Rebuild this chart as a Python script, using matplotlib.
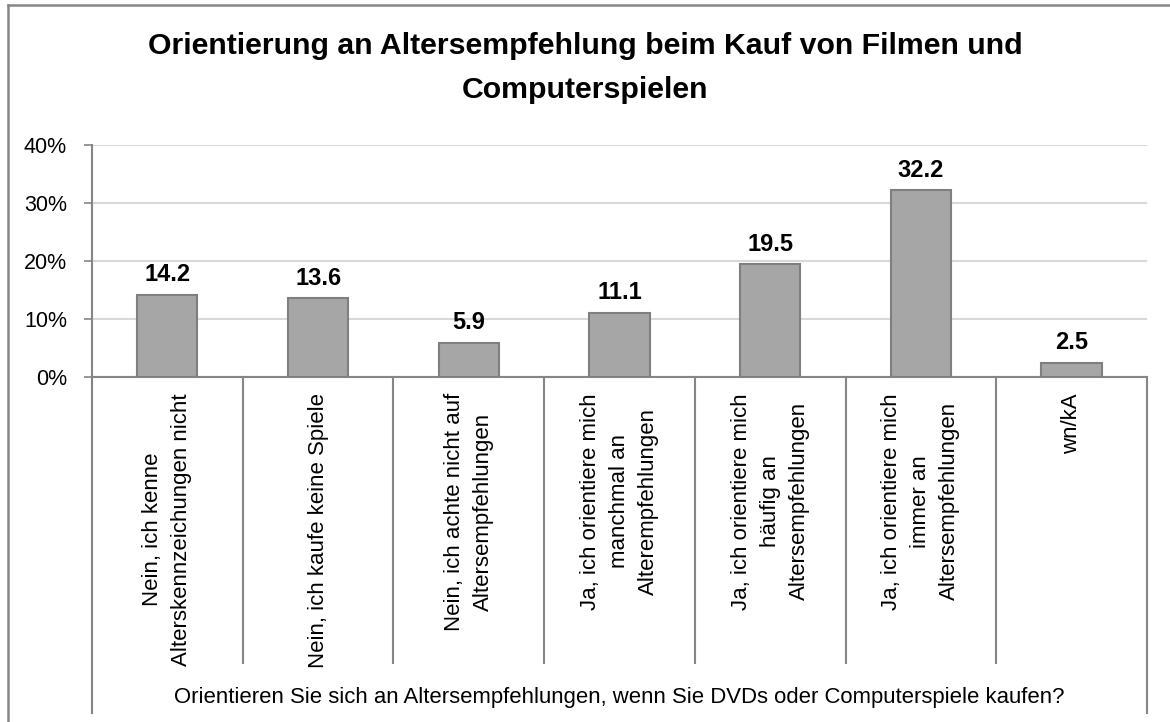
import matplotlib
matplotlib.use('Agg')
import matplotlib.pyplot as plt
from matplotlib.lines import Line2D
import matplotlib.transforms as mtransforms

# Daten
categories = [
    'Nein, ich kenne\nAlterskennzeichungen nicht',
    'Nein, ich kaufe keine Spiele',
    'Nein, ich achte nicht auf\nAltersempfehlungen',
    'Ja, ich orientiere mich\nmanchmal an\nAlterempfehlungen',
    'Ja, ich orientiere mich\nhäufig an\nAltersempfehlungen',
    'Ja, ich orientiere mich\nimmer an\nAltersempfehlungen',
    'wn/kA',
]
values = [14.2, 13.6, 5.9, 11.1, 19.5, 32.2, 2.5]
yticks = [0, 10, 20, 30, 40]
title = 'Orientierung an Altersempfehlung beim Kauf von Filmen und\nComputerspielen'
xtitle = 'Orientieren Sie sich an Altersempfehlungen, wenn Sie DVDs oder Computerspiele kaufen?'

font = ['Liberation Sans', 'DejaVu Sans']
axis_grey = '#868686'

fig = plt.figure(figsize=(11.7, 7.22), dpi=100)
ax = fig.add_axes([92 / 1170, 345 / 722, 1055 / 1170, 232 / 722])

x = list(range(len(values)))
ax.bar(x, values, width=0.4, color='#A6A6A6', edgecolor='#7F7F7F', linewidth=1.5, zorder=3)

for xi, v in zip(x, values):
    ax.annotate(f'{v:.1f}', (xi, v), xytext=(0, 6), textcoords='offset points',
                ha='center', va='bottom', fontsize=17, fontweight='bold', family=font)

ax.set_xlim(-0.5, len(values) - 0.5)
ax.set_ylim(0, 40)
ax.set_yticks(yticks)
ax.set_yticklabels([f'{t}%' for t in yticks], family=font, fontsize=15.5)
ax.tick_params(axis='y', length=6, width=1.2, color=axis_grey, pad=12)
ax.set_xticks([])
ax.grid(True, axis='y', color='#D9D9D9', linewidth=1.5, zorder=0)
for s in ['top', 'right']:
    ax.spines[s].set_visible(False)
ax.spines['left'].set_color(axis_grey)
ax.spines['bottom'].set_color(axis_grey)
ax.spines['left'].set_linewidth(1.5)
ax.spines['bottom'].set_linewidth(1.5)

# Kategorie-Trennlinien und Beschriftungen
trans = mtransforms.blended_transform_factory(ax.transData, ax.transAxes)
for i in range(1, len(values)):
    ax.add_line(Line2D([i - 0.5, i - 0.5], [0, -286 / 232], transform=trans,
                       color=axis_grey, lw=1.5, clip_on=False))
for b in [-0.5, len(values) - 0.5]:
    ax.add_line(Line2D([b, b], [0, -336 / 232], transform=trans,
                       color=axis_grey, lw=1.5, clip_on=False))
for xi, lab in zip(x, categories):
    ax.text(xi, -16 / 232, lab, transform=trans, rotation=90, ha='center', va='top',
            multialignment='center', fontsize=16, family=font, linespacing=1.5)

fig.text(619.5 / 1170, 24 / 722, xtitle, ha='center', va='center', fontsize=15.9, family=font)
fig.text(585 / 1170, 654 / 722, title, ha='center', va='center', fontsize=21.8,
         fontweight='bold', family=font, linespacing=1.75)

# Rahmen
fig.add_artist(Line2D([7.5 / 1170, 7.5 / 1170], [0, 717 / 722], color=axis_grey, lw=1.8))
fig.add_artist(Line2D([7.5 / 1170, 1], [717 / 722, 717 / 722], color=axis_grey, lw=1.8))

fig.savefig('out.png', dpi=100)
